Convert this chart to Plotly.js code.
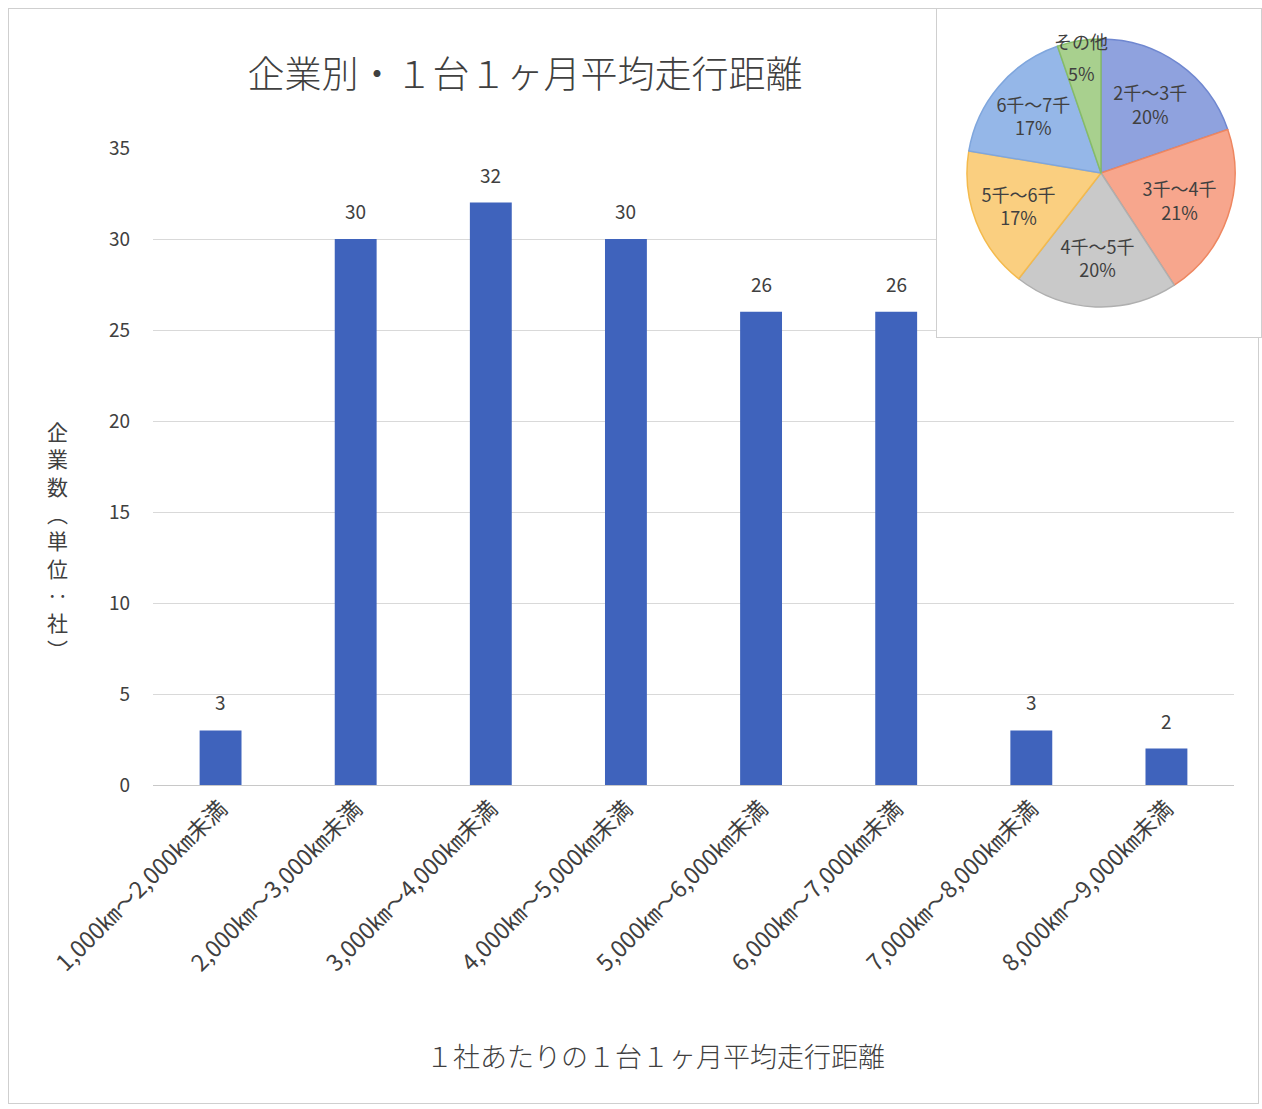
<!DOCTYPE html>
<html><head><meta charset="utf-8">
<script src="https://cdn.plot.ly/plotly-3.0.1.min.js"></script>
<style>
html,body{margin:0;padding:0;background:#fff;}
#wrap{position:relative;width:1262px;height:1109px;}
#frame{position:absolute;left:8px;top:8px;width:1251px;height:1096px;border:1px solid #cfcfcf;box-sizing:border-box;}
#bar{position:absolute;left:0;top:0;width:1262px;height:1109px;}
#pie{position:absolute;left:936px;top:8px;width:326px;height:330px;background:#fff;border:1px solid #cfcfcf;box-sizing:border-box;}
</style></head>
<body><div id="wrap"><div id="frame"></div><div id="bar"></div><div id="pie"></div></div>
<script>
const categories = ["1,000㎞～2,000㎞未満","2,000㎞～3,000㎞未満","3,000㎞～4,000㎞未満","4,000㎞～5,000㎞未満","5,000㎞～6,000㎞未満","6,000㎞～7,000㎞未満","7,000㎞～8,000㎞未満","8,000㎞～9,000㎞未満"];
const companyCounts = [3,30,32,30,26,26,3,2];
const yTicks = [0,5,10,15,20,25,30,35];
const pieLabels = ["2千～3千","3千～4千","4千～5千","5千～6千","6千～7千","その他"];
const pieCounts = [30,32,30,26,26,8];
const pieColors = ["#8FA2DE","#F7A68D","#C9C9C9","#FACF80","#95B7E8","#A8D08E"];
const pieLineColors = ["#6F87D0","#EE8660","#AFAFAF","#F4BA4C","#7FA6DD","#86BC67"];
const chartTitle = "企業別・１台１ヶ月平均走行距離";
const xTitle = "１社あたりの１台１ヶ月平均走行距離";
const yTitleChars = ["企","業","数","︵","単","位","‥","社","︶"];

const FONT = "'Noto Sans CJK JP', 'Noto Sans', sans-serif";
const GREY = "#404040";

const labelAnns = categories.map((c,i)=>({
  x:c, y:companyCounts[i], xref:'x', yref:'y', text:String(companyCounts[i]),
  showarrow:false, yanchor:'bottom', yshift:13, font:{family:FONT,size:19,color:GREY}
}));

Plotly.newPlot('bar',[{
  type:'bar', x:categories, y:companyCounts, marker:{color:'#3F63BC'}, hoverinfo:'skip'
}],{
  width:1262, height:1109, paper_bgcolor:'rgba(0,0,0,0)', plot_bgcolor:'rgba(0,0,0,0)',
  margin:{l:153,r:28,t:148,b:324},
  bargap:0.69, showlegend:false,
  title:{text:chartTitle, xref:'container', yref:'container', x:0.416, y:1-75/1109, xanchor:'center', yanchor:'middle',
    font:{family:FONT,size:37,color:GREY,weight:300}},
  xaxis:{type:'category', tickangle:-45, tickfont:{family:FONT,size:23,color:GREY}, showgrid:false,
    showline:true, linecolor:'#c8c8c8', linewidth:1, ticks:'', automargin:false},
  yaxis:{range:[0,35], tickvals:yTicks, tickfont:{family:FONT,size:19,color:GREY}, gridcolor:'#d9d9d9', gridwidth:1,
    zeroline:false, showline:false, ticks:'', ticklabelstandoff:22, automargin:false},
  annotations: labelAnns.concat([
    {xref:'paper', yref:'paper', x:(655-153)/1081, y:-(1055-785)/637, text:xTitle, showarrow:false,
     xanchor:'center', yanchor:'middle', font:{family:FONT,size:27,color:GREY,weight:300}},
    {xref:'paper', yref:'paper', x:(57-153)/1081, y:(785-540)/637, text:yTitleChars.join('<br>'), showarrow:false,
     xanchor:'center', yanchor:'middle', font:{family:FONT,size:21,color:GREY}}
  ])
},{staticPlot:true});

const otherIdx = pieLabels.length-1;
const pieTemplates = pieLabels.map((l,i)=> i===otherIdx ? '' : '%{label}<br>%{percent:.0%}');
const total = pieCounts.reduce((a,b)=>a+b,0);

Plotly.newPlot('pie',[{
  type:'pie', labels:pieLabels, values:pieCounts, sort:false, direction:'clockwise', rotation:0,
  marker:{colors:pieColors, line:{color:pieLineColors, width:1.5}},
  texttemplate:pieTemplates, textposition:'inside', insidetextorientation:'horizontal',
  textfont:{family:FONT,size:18,color:GREY}, hoverinfo:'skip',
  domain:{x:[(164-134)/324,(164+134)/324], y:[(328-164-134)/328,(328-164+134)/328]}
}],{
  width:324, height:328, paper_bgcolor:'#fff', margin:{l:0,r:0,t:0,b:0}, showlegend:false,
  annotations:[
    {xref:'paper',yref:'paper',x:144/324,y:1-32/328,text:pieLabels[otherIdx],showarrow:false,xanchor:'center',yanchor:'middle',
     font:{family:FONT,size:18,color:GREY}},
    {xref:'paper',yref:'paper',x:144/324,y:1-64/328,text:Math.round(pieCounts[otherIdx]/total*100)+'%',showarrow:false,xanchor:'center',yanchor:'middle',
     font:{family:FONT,size:18,color:GREY}}
  ]
},{staticPlot:true});
</script></body></html>
